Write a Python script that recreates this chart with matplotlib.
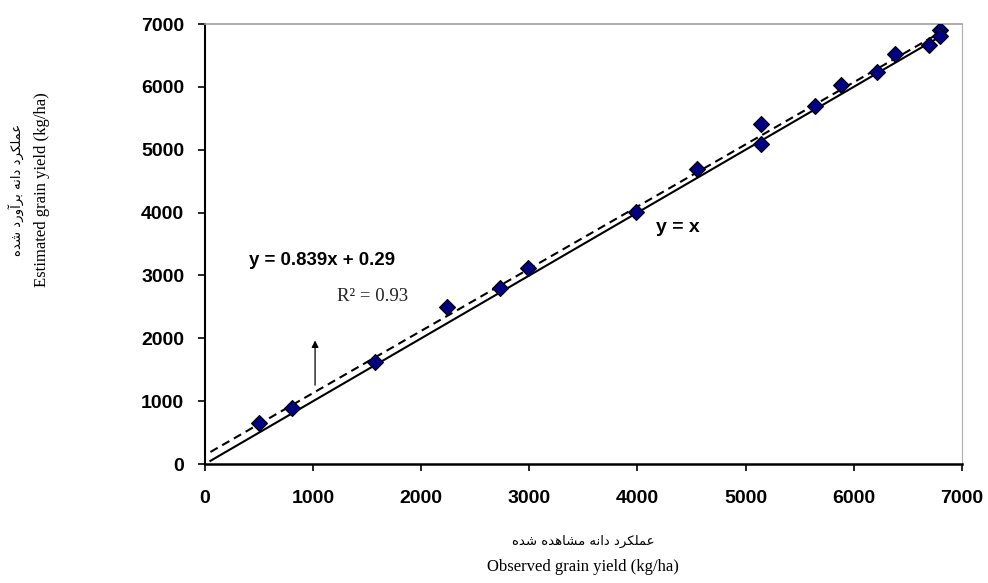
import numpy as np
import matplotlib
matplotlib.use('Agg')
import matplotlib.pyplot as plt

# observed vs estimated grain yield (kg/ha)
observed = [500, 800, 1575, 2235, 2730, 2990, 3985, 4555, 5145, 5145,
            5640, 5885, 6215, 6380, 6695, 6795, 6800]
estimated = [650, 890, 1620, 2490, 2795, 3125, 4005, 4700, 5415, 5095,
             5695, 6025, 6230, 6520, 6665, 6900, 6810]

line_x = [50, 6800]  # extent of the two lines
ticks = [0, 1000, 2000, 3000, 4000, 5000, 6000, 7000]

ylabel_fa = 'عملکرد دانه برآورد شده'
xlabel_fa = 'عملکرد دانه مشاهده شده'
ylabel_en = 'Estimated grain yield (kg/ha)'
xlabel_en = 'Observed grain yield (kg/ha)'

# matplotlib has no arabic shaping, so do the joining by hand
# char -> (isolated, final, initial, medial)
forms = {
    'ع': '\uFEC9\uFECA\uFECB\uFECC',
    'م': '\uFEE1\uFEE2\uFEE3\uFEE4',
    'ل': '\uFEDD\uFEDE\uFEDF\uFEE0',
    'ک': '\uFB8E\uFB8F\uFB90\uFB91',
    'ن': '\uFEE5\uFEE6\uFEE7\uFEE8',
    'ه': '\uFEE9\uFEEA\uFEEB\uFEEC',
    'ب': '\uFE8F\uFE90\uFE91\uFE92',
    'ش': '\uFEB5\uFEB6\uFEB7\uFEB8',
    'ر': '\uFEAD\uFEAE',
    'د': '\uFEA9\uFEAA',
    'ا': '\uFE8D\uFE8E',
    'آ': '\uFE81\uFE82',
    'و': '\uFEED\uFEEE',
}


def shape(s):
    out = []
    for i, c in enumerate(s):
        if c not in forms:
            out.append(c)
            continue
        prev = s[i - 1] if i > 0 else ' '
        nxt = s[i + 1] if i < len(s) - 1 else ' '
        join_prev = prev in forms and len(forms[prev]) == 4
        join_next = len(forms[c]) == 4 and nxt in forms
        f = forms[c]
        if join_prev and join_next:
            out.append(f[3])
        elif join_prev:
            out.append(f[1])
        elif join_next:
            out.append(f[2])
        else:
            out.append(f[0])
    return ''.join(out)[::-1]


fig = plt.figure(figsize=(9.88, 5.83), dpi=100)
ax = fig.add_axes([0.2075, 0.2041, 0.766, 0.7547])

ax.plot(line_x, line_x, color='black', lw=1.5)
fit = np.polyfit(observed, estimated, 1)
ax.plot(line_x, np.polyval(fit, line_x), color='black', lw=1.5, ls=(0, (4, 2.5)))
ax.plot(observed, estimated, ls='none', marker='D', ms=8.5,
        mfc='#000080', mec='black', mew=0.8, zorder=5)

ax.set_xlim(0, 7000)
ax.set_ylim(0, 7000)
ax.set_xticks(ticks)
ax.set_yticks(ticks)
for lab in ax.get_xticklabels() + ax.get_yticklabels():
    lab.set_fontfamily('Liberation Sans')
    lab.set_fontweight('bold')
    lab.set_fontsize(14)
ax.tick_params(direction='out', length=5, width=1.2, color='black')
ax.tick_params(axis='y', pad=10)
ax.tick_params(axis='x', pad=14)

ax.spines['left'].set_linewidth(1.5)
ax.spines['bottom'].set_linewidth(1.8)
ax.spines['top'].set_color('#a0a0a0')
ax.spines['top'].set_linewidth(1.2)
ax.spines['right'].set_color('#b0b0b0')
ax.spines['right'].set_linewidth(0.8)

ax.text(1080, 3245, 'y = 0.839x + 0.29', fontfamily='Liberation Sans',
        fontweight='bold', fontsize=13.4, ha='center', va='center')
ax.text(1550, 2660, 'R² = 0.93', fontfamily='Liberation Serif',
        fontsize=13.5, ha='center', va='center', color='#222222')
ax.text(4375, 3755, 'y = x', fontfamily='Liberation Sans',
        fontweight='bold', fontsize=14, ha='center', va='center')
ax.annotate('', xy=(1018, 2010), xytext=(1018, 1210),
            arrowprops=dict(arrowstyle='-|>', color='black', lw=0.9,
                            mutation_scale=10))

# axis titles: persian line + english line
fig.text(583 / 988, 1 - 541 / 583, shape(xlabel_fa), fontfamily='DejaVu Sans',
         fontsize=9.5, ha='center', va='center')
fig.text(583 / 988, 1 - 567 / 583, xlabel_en, fontfamily='Liberation Serif',
         fontsize=12, ha='center', va='center')
fig.text(16 / 988, 1 - 190 / 583, shape(ylabel_fa), fontfamily='DejaVu Sans',
         fontsize=9.5, ha='center', va='center', rotation=90)
fig.text(42 / 988, 1 - 190 / 583, ylabel_en, fontfamily='Liberation Serif',
         fontsize=12, ha='center', va='center', rotation=90)

fig.savefig('out.png', dpi=100)
